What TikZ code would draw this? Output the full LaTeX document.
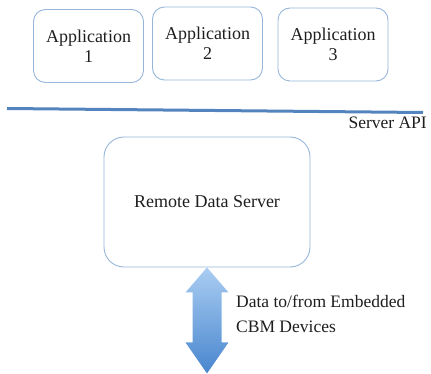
\documentclass[tikz,border=0pt]{standalone}
\usepackage{fontspec}
\setmainfont{Liberation Serif}
\definecolor{boxline}{RGB}{150,182,218}
\definecolor{apiline}{RGB}{84,132,190}
\definecolor{txt}{RGB}{30,30,30}
\definecolor{arrtop}{RGB}{170,205,242}
\definecolor{arrbot}{RGB}{72,134,206}
\begin{document}
\begin{tikzpicture}[x=1pt,y=-1pt,
  appbox/.style={draw=boxline, line width=0.9pt, rounded corners=12pt,
    minimum width=110pt, minimum height=73pt, align=center,
    text=txt, font=\fontsize{18}{20}\selectfont, inner sep=0pt},
  serverbox/.style={draw=boxline, line width=0.9pt, rounded corners=20pt,
    minimum width=206pt, minimum height=130pt,
    text=txt, font=\fontsize{18}{20}\selectfont},
  lbl/.style={text=txt, font=\fontsize{17.5}{25}\selectfont, inner sep=0pt}]
\useasboundingbox (0,0) rectangle (431,374);
% application boxes
\node[appbox] (app1) at (88.5,46) {Application\\1};
\node[appbox] (app2) at (207.5,43.5) {Application\\2};
\node[appbox] (app3) at (333,44.5) {Application\\3};
% server API separator
\coordinate (apiL) at (7,108.5);
\coordinate (apiR) at (423,112.5);
\draw[apiline, line width=3pt] (apiL) -- (apiR);
\node[lbl, anchor=east] (api) at (427,123) {Server API};
% server
\node[serverbox] (server) at (207,202) {Remote Data Server};
% double-headed data arrow below the server
\coordinate (tip) at (server.south);
\shade[top color=arrtop, bottom color=arrbot]
  (tip) -- ++(21.5,25) -- ++(-7,0) -- ++(0,50) -- ++(7,0)
  -- ++(-21.5,31) -- ++(-21.5,-31) -- ++(7,0) -- ++(0,-50) -- ++(-7,0) -- cycle;
\node[lbl, anchor=north west, align=left] (data) at (236,295)
  {Data to/from Embedded\\CBM Devices};
\end{tikzpicture}
\end{document}
